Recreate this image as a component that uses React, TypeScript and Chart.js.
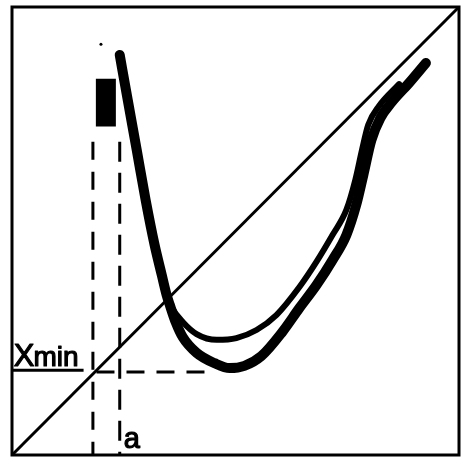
import { useEffect, useRef } from "react";
import { Chart, registerables } from "chart.js";

Chart.register(...registerables);

// Reference diagonal x = y
const diagonalX = [0, 100];
const diagonalY = [0, 100];

// Descending leg shared by both traces
const legX = [24.1, 25.9, 27.9, 29.9, 31.9, 33.5, 34.6];
const legY = [89.3, 79.2, 68.1, 56.9, 46.9, 40.2, 35.7];

// Upper (thinner) return trace
const upperX = [35.7, 38.2, 41.3, 45.8, 50.2, 54.7, 59.2, 64.3, 68.1, 71.7, 74.8, 76.8, 78.3, 79.7, 82.1, 86.6];
const upperY = [33.0, 29.7, 27.0, 25.7, 26.1, 27.9, 31.3, 37.5, 43.1, 49.1, 54.7, 61.4, 68.1, 73.7, 77.9, 82.8];

// Lower (heavier) trace
const lowerX = [35.3, 36.6, 38.2, 41.3, 45.3, 48.7, 52.0, 55.8, 60.5, 64.3, 68.1, 71.7, 74.8, 77.0, 78.6, 80.4, 82.4, 85.0, 88.8, 92.6];
const lowerY = [33.5, 29.7, 26.3, 22.8, 20.5, 19.4, 19.9, 22.1, 27.5, 32.8, 37.9, 43.5, 49.1, 55.8, 62.5, 70.3, 75.2, 78.8, 83.0, 87.5];

// Dense block near the start of the sweep
const blockX = [21.0, 21.0];
const blockY = [73.3, 84.0];

// Stray point above the block
const dotX = [19.9];
const dotY = [91.7];

// Guide lines
const guideA = 18.1; // x where the diagonal reaches X_min
const guideB = 24.1; // x = a
const guideTop = 69.9;
const xMinLevel = 18.5;
const xMinGuideStart = 18.9;
const xMinGuideEnd = 44.2;

// Annotations
const labelXmin = { x: 0.4, y: 19.8 };
const labelA = { x: 25.0, y: 1.6 };

const pts = (xs: number[], ys: number[]) => xs.map((x, i) => ({ x, y: ys[i] }));

const frameAndLabels = {
  id: "frameAndLabels",
  afterDatasetsDraw(chart: any) {
    const { ctx, chartArea, scales } = chart;
    const sx = scales.x;
    const sy = scales.y;
    ctx.save();
    ctx.strokeStyle = "#000";
    ctx.lineWidth = 3;
    ctx.strokeRect(chartArea.left, chartArea.top, chartArea.right - chartArea.left, chartArea.bottom - chartArea.top);

    ctx.fillStyle = "#000";
    ctx.textBaseline = "alphabetic";
    ctx.textAlign = "left";
    ctx.lineJoin = "round";

    const heavyText = (text: string, x: number, y: number) => {
      ctx.lineWidth = 1.2;
      ctx.fillText(text, x, y);
      ctx.strokeText(text, x, y);
    };

    // X_min label with underline
    const px = sx.getPixelForValue(labelXmin.x);
    const py = sy.getPixelForValue(labelXmin.y);
    ctx.font = "31px 'Liberation Sans', Arial, sans-serif";
    heavyText("X", px, py);
    const wX = ctx.measureText("X").width;
    ctx.font = "28px 'Liberation Sans', Arial, sans-serif";
    heavyText("min", px + wX - 1, py);
    const wMin = ctx.measureText("min").width;
    ctx.beginPath();
    ctx.lineWidth = 3;
    ctx.moveTo(chartArea.left, py + 4);
    ctx.lineTo(px + wX + wMin + 4, py + 4);
    ctx.stroke();

    // a label
    ctx.font = "29px 'Liberation Sans', Arial, sans-serif";
    heavyText("a", sx.getPixelForValue(labelA.x), sy.getPixelForValue(labelA.y));
    ctx.restore();
  },
};

export default function App() {
  const ref = useRef<HTMLCanvasElement | null>(null);

  useEffect(() => {
    if (!ref.current) return;
    const dashed = {
      borderColor: "#000",
      borderWidth: 3,
      borderDash: [18, 12],
      pointRadius: 0,
      tension: 0,
      fill: false,
    };
    const trace = {
      borderColor: "#000",
      pointRadius: 0,
      cubicInterpolationMode: "monotone",
      borderCapStyle: "round",
      borderJoinStyle: "round",
    };
    const chart = new Chart(ref.current, {
      type: "line",
      data: {
        datasets: [
          { ...dashed, data: pts([guideA, guideA], [guideTop, 0]) },
          { ...dashed, borderDash: [20, 11], data: pts([guideB, guideB], [guideTop, 0]) },
          { ...dashed, data: pts([xMinGuideStart, xMinGuideEnd], [xMinLevel, xMinLevel]) },
          {
            data: pts(diagonalX, diagonalY),
            borderColor: "#000",
            borderWidth: 3,
            pointRadius: 0,
            tension: 0,
          },
          { ...trace, borderWidth: 10, data: pts([...legX, ...lowerX], [...legY, ...lowerY]) },
          { ...trace, borderWidth: 6, data: pts([...legX, ...upperX], [...legY, ...upperY]) },
          {
            data: pts(blockX, blockY),
            borderColor: "#000",
            borderWidth: 20,
            pointRadius: 0,
            tension: 0,
            borderCapStyle: "butt",
          },
          {
            data: pts(dotX, dotY),
            showLine: false,
            pointRadius: 1.5,
            pointBackgroundColor: "#000",
            pointBorderWidth: 0,
          },
        ],
      },
      options: {
        animation: false,
        responsive: false,
        events: [],
        layout: { padding: { left: 12, top: 7, right: 3, bottom: 6 } },
        plugins: { legend: { display: false }, tooltip: { enabled: false } },
        scales: {
          x: { type: "linear", min: 0, max: 100, display: false },
          y: { type: "linear", min: 0, max: 100, display: false },
        },
      },
      plugins: [frameAndLabels],
    });
    return () => chart.destroy();
  }, []);

  return (
    <div style={{ position: "fixed", left: 0, top: 0, width: 463, height: 461, background: "#fff" }}>
      <canvas ref={ref} width={463} height={461} style={{ display: "block" }} />
    </div>
  );
}
